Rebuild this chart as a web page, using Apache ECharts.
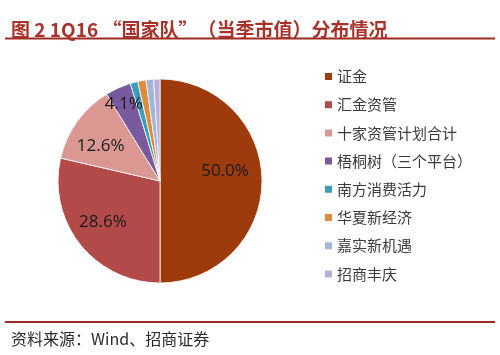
<!DOCTYPE html>
<html><head><meta charset="utf-8">
<script src="https://cdn.jsdelivr.net/npm/echarts@6/dist/echarts.min.js"></script>
<style>html,body{margin:0;padding:0;background:#fff}#c{width:500px;height:355px}</style>
</head><body><div id="c"></div>
<script>
var categories = ['证金','汇金资管','十家资管计划合计','梧桐树（三个平台）','南方消费活力','华夏新经济','嘉实新机遇','招商丰庆'];
var values = [50.0, 28.6, 12.6, 4.1, 1.2, 1.3, 1.2, 1.0];
var colors = ['#9E3B0C','#B24A49','#DB9893','#7A5A9E','#3A9EB6','#E08A3E','#A3B4DB','#BAADD8'];
var labelled = [0, 1, 2];
var labelledOuter = [3];

var chart = echarts.init(document.getElementById('c'));
var center = [160, 181];
var shifts = { 0: [-8, -10], 1: [0, -4], 2: [0, 8], 3: [0, 3] };
function mk(showIdx, transparent) {
  return categories.map(function (n, i) {
    var d = { name: n, value: values[i] };
    if (transparent) {
      d.itemStyle = { color: 'rgba(0,0,0,0)', borderWidth: 0 };
      d.label = { show: showIdx.indexOf(i) >= 0 };
      if (shifts[i]) d.label.offset = shifts[i];
    }
    return d;
  });
}
var lblStyle = { position: 'inside', formatter: function (p) { return p.value.toFixed(1) + '%'; },
  color: '#1a1a1a', fontSize: 17, fontFamily: 'Open Sans, DejaVu Sans, sans-serif' };
chart.setOption({
  animation: false,
  color: colors,
  title: [{
    text: '图 2 1Q16 “国家队”（当季市值）分布情况', left: 6, top: 15,
    textStyle: { color: '#A8322A', fontSize: 19, fontWeight: 'bold', fontFamily: 'Noto Sans CJK SC' }
  }, {
    text: '资料来源：Wind、招商证券', left: 6, top: 326,
    textStyle: { color: '#2a2a2a', fontSize: 16, fontWeight: 'normal', fontFamily: 'Noto Sans CJK SC' }
  }],
  graphic: [
    { type: 'line', shape: { x1: 5, y1: 38.5, x2: 495, y2: 38.5 }, style: { stroke: '#9B2A22', lineWidth: 2 } },
    { type: 'line', shape: { x1: 5, y1: 322, x2: 495, y2: 322 }, style: { stroke: '#9B2A22', lineWidth: 2 } }
  ],
  legend: {
    orient: 'vertical', left: 318, top: 64, itemGap: 13.2, itemWidth: 9, itemHeight: 9,
    icon: 'rect', data: categories,
    textStyle: { color: '#3a3a3a', fontSize: 15, fontFamily: 'Noto Sans CJK SC', padding: [0, 0, 0, -1] }
  },
  series: [{
    type: 'pie', radius: [0, 102], center: center, startAngle: 90, clockwise: true,
    label: { show: false }, labelLine: { show: false },
    itemStyle: { borderColor: '#fff', borderWidth: 0.8 },
    data: mk([], false), silent: true
  }, {
    type: 'pie', radius: [0, 140], center: center, startAngle: 90, clockwise: true,
    label: lblStyle, labelLine: { show: false }, legendHoverLink: false,
    data: mk(labelled, true), silent: true
  }, {
    type: 'pie', radius: [30, 140], center: center, startAngle: 90, clockwise: true,
    label: lblStyle, labelLine: { show: false }, legendHoverLink: false,
    data: mk(labelledOuter, true), silent: true
  }]
});
</script></body></html>
